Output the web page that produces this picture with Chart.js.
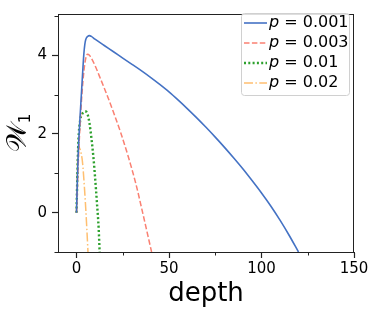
<!DOCTYPE html>
<html>
<head>
<meta charset="utf-8">
<script src="https://cdn.jsdelivr.net/npm/chart.js@4.4.1/dist/chart.umd.min.js"></script>
<style>
  html, body { margin: 0; padding: 0; background: #fff; }
  #wrap { width: 379px; height: 316px; }
</style>
</head>
<body>
<div id="wrap"><canvas id="chart"></canvas></div>
<script>
// values
const seriesLabels = ['0.001', '0.003', '0.01', '0.02'];

const depthA = [0, 0.5, 1, 2, 3, 3.5, 4, 4.5, 5, 6, 7, 8, 10, 15, 20, 25, 30, 35, 40, 45, 50, 55, 60, 65, 70, 75, 80, 85, 90, 95, 100, 105, 110, 115, 120];
const w1A    = [0, 0.9, 1.6, 2.5, 3.3, 3.7, 4.05, 4.28, 4.4, 4.48, 4.5, 4.48, 4.41, 4.25, 4.09, 3.93, 3.77, 3.61, 3.44, 3.26, 3.07, 2.86, 2.64, 2.41, 2.17, 1.92, 1.66, 1.39, 1.11, 0.81, 0.5, 0.17, -0.19, -0.58, -1.0];

const depthB = [0, 1, 2, 3, 4, 5, 6, 7, 8, 10, 13, 16, 20, 24, 28, 32, 36, 40.6];
const w1B    = [0, 1.3, 2.3, 3.05, 3.6, 3.92, 4.03, 4.0, 3.93, 3.74, 3.4, 3.05, 2.55, 2.02, 1.42, 0.75, -0.05, -1.0];

const depthC = [0, 0.5, 1, 2, 3, 4, 5, 6, 7, 8, 9, 10, 11, 12, 12.5];
const w1C    = [0, 1.0, 1.8, 2.35, 2.5, 2.56, 2.57, 2.5, 2.28, 1.92, 1.48, 0.92, 0.28, -0.42, -1.0];

const depthD = [0, 0.3, 0.7, 1.2, 2, 3, 3.5, 4.3, 5, 6, 6.2];
const w1D    = [0, 0.8, 1.45, 1.68, 1.6, 1.38, 1.15, 0.63, 0.1, -0.8, -1.0];

const xTicksMajor = [0, 50, 100, 150];
const yTicksMajor = [0, 2, 4];

const colors = ['#4472c4', '#fa8072', '#2ca02c', '#ffbf70'];
const dashes = [[], [5.5, 2.4], [2, 2.3], [9, 2.4, 1.5, 2.4]];
const widths = [1.6, 1.5, 2.4, 1.5];

const xs = [depthA, depthB, depthC, depthD];
const ys = [w1A, w1B, w1C, w1D];

const FONT = "'DejaVu Sans', sans-serif";

const datasets = seriesLabels.map((lab, i) => ({
    label: lab,
    data: xs[i].map((x, j) => ({ x: x, y: ys[i][j] })),
    borderColor: colors[i],
    backgroundColor: colors[i],
    borderDash: dashes[i],
    borderWidth: widths[i],
    pointRadius: 0,
    cubicInterpolationMode: 'monotone',
    fill: false
}));

// minor ticks, frame, legend box and y label
const extras = {
    id: 'extras',
    afterDraw(chart) {
        const ctx = chart.ctx;
        const a = chart.chartArea;
        const sx = chart.scales.x, sy = chart.scales.y;
        ctx.save();
        ctx.strokeStyle = '#222';
        ctx.lineWidth = 1;
        ctx.beginPath();
        ctx.moveTo(a.left, a.top + 0.5);
        ctx.lineTo(a.right, a.top + 0.5);
        ctx.moveTo(a.right - 0.5, a.top);
        ctx.lineTo(a.right - 0.5, a.bottom);
        ctx.stroke();

        ctx.beginPath();
        sx.ticks.forEach(t => {
            if (xTicksMajor.includes(t.value)) return;
            const px = Math.round(sx.getPixelForValue(t.value)) + 0.5;
            ctx.moveTo(px, a.bottom);
            ctx.lineTo(px, a.bottom + 3.5);
        });
        sy.ticks.forEach(t => {
            if (yTicksMajor.includes(t.value)) return;
            const py = Math.round(sy.getPixelForValue(t.value)) + 0.5;
            ctx.moveTo(a.left, py);
            ctx.lineTo(a.left - 3.5, py);
        });
        ctx.stroke();

        // legend
        const lx = 241.5, ly = 13.5, lw = 108, lh = 82;
        ctx.fillStyle = 'rgba(255,255,255,0.85)';
        ctx.strokeStyle = '#d0d0d0';
        ctx.lineWidth = 1;
        ctx.beginPath();
        ctx.roundRect(lx, ly, lw, lh, 3);
        ctx.fill();
        ctx.stroke();
        chart.data.datasets.forEach((ds, i) => {
            const cy = 23 + i * 20;
            ctx.strokeStyle = ds.borderColor;
            ctx.lineWidth = ds.borderWidth;
            ctx.setLineDash(ds.borderDash);
            ctx.beginPath();
            ctx.moveTo(244, cy);
            ctx.lineTo(267, cy);
            ctx.stroke();
            ctx.setLineDash([]);
            ctx.fillStyle = '#000';
            ctx.textBaseline = 'middle';
            ctx.textAlign = 'left';
            ctx.font = 'italic 16px ' + FONT;
            ctx.fillText('p', 269, cy);
            const pw = ctx.measureText('p').width;
            ctx.font = '16px ' + FONT;
            ctx.fillText(' = ' + ds.label, 269 + pw, cy);
        });

        // y axis label
        const cyl = (a.top + a.bottom) / 2;
        ctx.translate(26, cyl);
        ctx.rotate(-Math.PI / 2);
        ctx.fillStyle = '#000';
        ctx.textBaseline = 'alphabetic';
        ctx.font = "28px 'DejaVu Serif', 'DejaVu Sans', serif";
        const ww = ctx.measureText('\u{1D4B2}').width;
        ctx.font = '15px ' + FONT;
        const w1 = ctx.measureText('1').width;
        const start = -(ww + w1) / 2;
        ctx.font = "28px 'DejaVu Serif', 'DejaVu Sans', serif";
        ctx.fillText('\u{1D4B2}', start, 0);
        ctx.font = '15px ' + FONT;
        ctx.fillText('1', start + ww, 4);
        ctx.restore();
    }
};

new Chart(document.getElementById('chart'), {
    type: 'line',
    data: { datasets: datasets },
    options: {
        responsive: true,
        maintainAspectRatio: false,
        animation: false,
        layout: { padding: { top: 9, right: 25, left: 0, bottom: 0 } },
        plugins: { legend: { display: false }, tooltip: { enabled: false } },
        scales: {
            x: {
                type: 'linear',
                min: -10,
                max: 150,
                afterFit: s => { s.height = 64; },
                ticks: {
                    stepSize: 25,
                    includeBounds: false,
                    maxRotation: 0,
                    autoSkip: false,
                    padding: 2,
                    color: '#000',
                    font: { family: FONT, size: 15 },
                    callback: v => xTicksMajor.includes(v) ? String(v) : ''
                },
                grid: {
                    drawOnChartArea: false,
                    drawTicks: true,
                    tickLength: 6,
                    tickWidth: 1.2,
                    tickColor: c => (c.tick && xTicksMajor.includes(c.tick.value)) ? '#222' : 'rgba(0,0,0,0)'
                },
                border: { display: true, color: '#222', width: 1 },
                title: {
                    display: true,
                    text: 'depth',
                    color: '#000',
                    font: { family: FONT, size: 26 },
                    padding: { top: 0, bottom: 6 }
                }
            },
            y: {
                type: 'linear',
                min: -1,
                max: 5.05,
                afterFit: s => { s.width = 58; },
                ticks: {
                    stepSize: 1,
                    includeBounds: false,
                    autoSkip: false,
                    padding: 5,
                    color: '#000',
                    font: { family: FONT, size: 15 },
                    callback: v => yTicksMajor.includes(v) ? String(v) : ''
                },
                grid: {
                    drawOnChartArea: false,
                    drawTicks: true,
                    tickLength: 6,
                    tickWidth: 1.2,
                    tickColor: c => (c.tick && yTicksMajor.includes(c.tick.value)) ? '#222' : 'rgba(0,0,0,0)'
                },
                border: { display: true, color: '#222', width: 1 }
            }
        }
    },
    plugins: [extras]
});
</script>
</body>
</html>
